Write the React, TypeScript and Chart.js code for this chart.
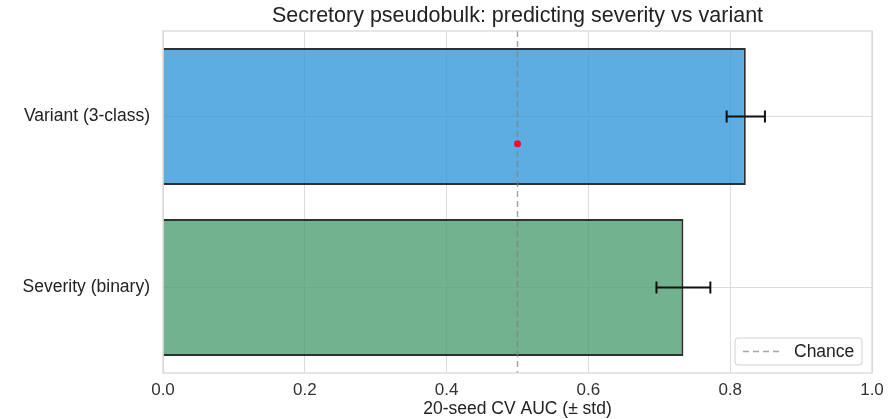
import React, { useEffect, useRef } from "react";
import { Chart, registerables } from "chart.js";

Chart.register(...registerables);

const categories = ["Variant (3-class)", "Severity (binary)"];
const aucMeans = [0.822, 0.734];
const aucStds = [0.027, 0.038];
const barColors = ["rgba(52,152,219,0.8)", "rgba(79,159,114,0.8)"];
const chanceLevel = 0.5;
const chanceLabel = "Chance";
const dotX = [0.5];
const dotCategoryOffset = [0.16];
const xTicks = [0, 0.2, 0.4, 0.6, 0.8, 1.0];
const titleText = "Secretory pseudobulk: predicting severity vs variant";
const xTitle = "20-seed CV AUC (± std)";

const FONT = 'Arial, "Liberation Sans", Helvetica, sans-serif';

const overlayPlugin = {
  id: "overlay",
  afterDatasetsDraw(chart: any) {
    const { ctx, chartArea, scales } = chart;
    const xs = scales.x;
    const ys = scales.y;
    ctx.save();
    // error bars
    ctx.strokeStyle = "#111";
    ctx.lineWidth = 2;
    aucMeans.forEach((m, i) => {
      const y = ys.getPixelForValue(i);
      const x1 = xs.getPixelForValue(m - aucStds[i]);
      const x2 = xs.getPixelForValue(m + aucStds[i]);
      ctx.beginPath();
      ctx.moveTo(x1, y);
      ctx.lineTo(x2, y);
      ctx.moveTo(x1, y - 6);
      ctx.lineTo(x1, y + 6);
      ctx.moveTo(x2, y - 6);
      ctx.lineTo(x2, y + 6);
      ctx.stroke();
    });
    // chance line
    const cx = xs.getPixelForValue(chanceLevel);
    ctx.strokeStyle = "rgba(128,128,128,0.7)";
    ctx.lineWidth = 1.5;
    ctx.setLineDash([6, 4]);
    ctx.beginPath();
    ctx.moveTo(cx, chartArea.top);
    ctx.lineTo(cx, chartArea.bottom);
    ctx.stroke();
    ctx.setLineDash([]);
    // red dot
    const step = ys.getPixelForValue(1) - ys.getPixelForValue(0);
    dotX.forEach((dx, i) => {
      const px = xs.getPixelForValue(dx);
      const py = ys.getPixelForValue(0) + dotCategoryOffset[i] * step;
      ctx.fillStyle = "#e8112d";
      ctx.beginPath();
      ctx.arc(px, py, 3.5, 0, Math.PI * 2);
      ctx.fill();
    });
    // frame
    ctx.strokeStyle = "#d6d6d6";
    ctx.lineWidth = 1.2;
    ctx.strokeRect(chartArea.left, chartArea.top, chartArea.right - chartArea.left, chartArea.bottom - chartArea.top);
    // legend
    const lw = 127, lh = 27;
    const lx = chartArea.right - 10 - lw;
    const ly = chartArea.bottom - 8 - lh;
    ctx.fillStyle = "rgba(255,255,255,0.85)";
    ctx.strokeStyle = "#d0d0d0";
    ctx.lineWidth = 1;
    ctx.beginPath();
    (ctx as any).roundRect ? (ctx as any).roundRect(lx, ly, lw, lh, 3) : ctx.rect(lx, ly, lw, lh);
    ctx.fill();
    ctx.stroke();
    ctx.strokeStyle = "rgba(128,128,128,0.7)";
    ctx.lineWidth = 1.5;
    ctx.setLineDash([6, 4]);
    ctx.beginPath();
    ctx.moveTo(lx + 8, ly + lh / 2);
    ctx.lineTo(lx + 45, ly + lh / 2);
    ctx.stroke();
    ctx.setLineDash([]);
    ctx.fillStyle = "#222";
    ctx.font = `17.5px ${FONT}`;
    ctx.textBaseline = "middle";
    ctx.textAlign = "left";
    ctx.fillText(chanceLabel, lx + 59, ly + lh / 2 + 1);
    // title
    ctx.font = `21.5px ${FONT}`;
    ctx.textAlign = "center";
    ctx.textBaseline = "middle";
    ctx.fillStyle = "#222";
    ctx.fillText(titleText, (chartArea.left + chartArea.right) / 2, 16);
    ctx.restore();
  },
};

export default function App() {
  const ref = useRef<HTMLCanvasElement>(null);
  useEffect(() => {
    document.body.style.margin = "0";
    const chart = new Chart(ref.current!, {
      type: "bar",
      data: {
        labels: categories,
        datasets: [
          {
            data: aucMeans,
            backgroundColor: barColors,
            borderColor: "rgba(25,25,25,0.9)",
            borderWidth: 2,
            barPercentage: 0.8,
            categoryPercentage: 1,
          },
        ],
      },
      options: {
        indexAxis: "y",
        animation: false,
        responsive: false,
        maintainAspectRatio: false,
        layout: { padding: { top: 31, right: 20, left: 0, bottom: 0 } },
        plugins: { legend: { display: false }, tooltip: { enabled: false }, title: { display: false } },
        scales: {
          x: {
            type: "linear",
            min: 0,
            max: 1,
            afterBuildTicks: (s: any) => {
              s.ticks = xTicks.map((v) => ({ value: v }));
            },
            afterFit: (s: any) => {
              s.height = 46;
            },
            ticks: {
              callback: (v: any) => Number(v).toFixed(1),
              color: "#333",
              font: { size: 17, family: FONT, lineHeight: 1.1 },
              padding: 8,
            },
            grid: { color: "#dcdcdc", lineWidth: 1, drawTicks: false },
            border: { display: false },
            title: { display: true, text: xTitle, color: "#222", font: { size: 17.5, family: FONT, lineHeight: 1.1 }, padding: { top: 0, bottom: 0 } },
          },
          y: {
            type: "category",
            afterFit: (s: any) => {
              s.width = 163;
            },
            ticks: { color: "#222", font: { size: 17.5, family: FONT }, padding: 13 },
            grid: { color: "#dcdcdc", lineWidth: 1, offset: false, drawTicks: false },
            border: { display: false },
          },
        },
      },
      plugins: [overlayPlugin],
    } as any);
    return () => chart.destroy();
  }, []);
  return (
    <div style={{ width: 892, height: 419 }}>
      <canvas ref={ref} width={892} height={419} style={{ display: "block" }} />
    </div>
  );
}
